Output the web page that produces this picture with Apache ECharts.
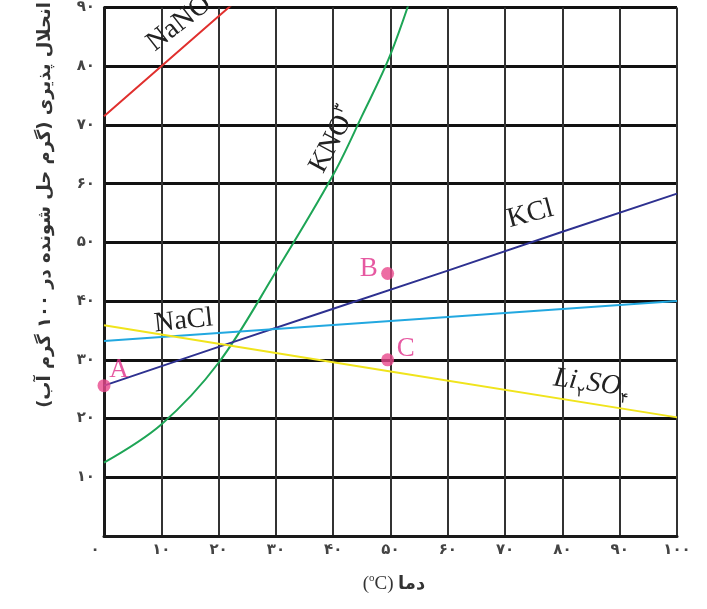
<!DOCTYPE html>
<html>
<head>
<meta charset="utf-8">
<script src="https://cdn.jsdelivr.net/npm/echarts@6/dist/echarts.min.js"></script>
<style>html,body{margin:0;padding:0;background:#fff}#c{width:707px;height:609px}</style>
</head>
<body>
<div id="c"></div>
<script>
// Tick labels (Persian digits)
var faDigits = ['۰','۱','۲','۳','۴','۵','۶','۷','۸','۹'];
// Curves: [temperature, solubility]
var nano3 = [[0, 71.5], [10, 80], [20, 88.5], [30, 97]];
var kno3 = [[0, 12.5], [10, 19], [20, 29.5], [30, 45], [40, 61.5], [45, 71.5], [50, 82], [55, 96]];
var kcl = [[0, 25.6], [20, 32.2], [40, 38.7], [60, 45.2], [80, 51.8], [100, 58.3]];
var nacl = [[0, 33.2], [50, 36.6], [100, 40.0]];
var li2so4 = [[0, 35.9], [50, 28.0], [100, 20.2]];
// Marked points
var pointNames = ['A', 'B', 'C'];
var pointX = [0, 49.5, 49.5];
var pointY = [25.6, 44.7, 30];
// Curve labels: pieces [text, kind] (m = main, s = subscript, p = raised), data coords, rotation (deg)
var curveLabels = [
  {parts: [['NaNO', 'm'], ['۳', 'p']], at: [13.8, 87.8], rot: 38},
  {parts: [['KNO', 'm'], ['۳', 'p']], at: [40.0, 67.5], rot: 62},
  {parts: [['KCl', 'm']], at: [74.4, 54.8], rot: 15},
  {parts: [['NaCl', 'm']], at: [13.9, 36.6], rot: 6},
  {parts: [['Li', 'm'], ['۲', 's'], ['SO', 'm'], ['۴', 's']], at: [85.2, 26.0], rot: -8, italic: true}
];

function fa(n) {
  return String(n).split('').map(function (d) { return faDigits[+d]; }).join('');
}

var chart = echarts.init(document.getElementById('c'));
var lineStyle = function (c) { return {color: c, width: 2}; };
var option = {
  animation: false,
  grid: {left: 104, right: 30, top: 3, bottom: 73},
  xAxis: {
    type: 'value', min: 0, max: 100, interval: 10,
    axisLine: {show: true, lineStyle: {color: '#1a1a1a', width: 3}},
    axisTick: {show: false},
    splitLine: {show: true, lineStyle: {color: '#333', width: 2}},
    axisLabel: {
      margin: 7, color: '#444', fontSize: 15, fontWeight: 'bold', fontFamily: 'DejaVu Sans',
      formatter: function (v) { return v === 0 ? '{z|' + fa(v) + '}' : fa(v); },
      rich: {z: {padding: [0, 18, 0, 0], fontSize: 15, fontWeight: 'bold', color: '#444', fontFamily: 'DejaVu Sans'}}
    }
  },
  yAxis: {
    type: 'value', min: 0, max: 90, interval: 10,
    axisLine: {show: true, lineStyle: {color: '#1a1a1a', width: 3}},
    axisTick: {show: false},
    splitLine: {show: true, lineStyle: {color: '#111', width: 3}},
    axisLabel: {
      margin: 9, color: '#444', fontSize: 15, fontWeight: 'bold', fontFamily: 'DejaVu Sans',
      formatter: function (v) { return v === 0 ? '' : fa(v); }
    }
  },
  series: [
    {type: 'line', data: nano3, showSymbol: false, lineStyle: lineStyle('#e0302e'), z: 3},
    {type: 'line', data: kno3, smooth: 0.35, showSymbol: false, lineStyle: lineStyle('#1ea556'), z: 3},
    {type: 'line', data: kcl, showSymbol: false, lineStyle: lineStyle('#2e3190'), z: 3},
    {type: 'line', data: nacl, showSymbol: false, lineStyle: lineStyle('#22a8e0'), z: 3},
    {type: 'line', data: li2so4, showSymbol: false, lineStyle: lineStyle('#f0e41c'), z: 3},
    {
      type: 'scatter', clip: false, symbolSize: 13, z: 5,
      itemStyle: {color: '#e9488c'},
      data: pointNames.map(function (n, i) {
        var off = [[15, -16], [-19, -5], [18, -11]][i];
        return {name: n, value: [pointX[i], pointY[i]],
          label: {show: true, position: 'inside', offset: off, formatter: '{b}',
            color: '#e0308a', fontSize: 27, fontFamily: 'Liberation Serif'}};
      })
    }
  ]
};
chart.setOption(option);

var measureCtx = document.createElement('canvas').getContext('2d');
function fontFor(kind, italic) {
  if (kind === 'm') return (italic ? 'italic ' : '') + '28px "Liberation Serif", "DejaVu Sans"';
  return '15px "DejaVu Sans"';
}
var graphics = curveLabels.map(function (l) {
  var p = chart.convertToPixel({gridIndex: 0}, l.at);
  var widths = l.parts.map(function (pt) {
    measureCtx.font = fontFor(pt[1], l.italic);
    return measureCtx.measureText(pt[0]).width + (pt[1] === 'm' ? 0 : 2);
  });
  var total = widths.reduce(function (a, b) { return a + b; }, 0);
  var cx = -total / 2;
  var children = l.parts.map(function (pt, i) {
    var dy = pt[1] === 's' ? 11 : (pt[1] === 'p' ? -9 : 0);
    var el = {type: 'text', x: cx + (pt[1] === 'm' ? 0 : 1), y: dy,
      style: {text: pt[0], fill: '#222', font: fontFor(pt[1], l.italic), align: 'left', verticalAlign: 'middle'}};
    cx += widths[i];
    return el;
  });
  return {type: 'group', x: p[0], y: p[1], rotation: l.rot * Math.PI / 180, z: 10, children: children};
});
graphics.push({
  type: 'text', x: 45, y: 205, rotation: Math.PI / 2, z: 10,
  style: {text: 'انحلال پذیری (گرم حل شونده در ۱۰۰ گرم آب)\u200F', fill: '#333',
    font: 'bold 18px "DejaVu Sans"', align: 'center', verticalAlign: 'middle'}
});
graphics.push({
  type: 'text', x: 394, y: 584, z: 10,
  style: {text: '{a|(}{o|o}{a|C)} {b|دما}', fill: '#333', font: '18px "Liberation Serif"',
    align: 'center', verticalAlign: 'middle',
    rich: {
      a: {fontSize: 19, fontFamily: 'Liberation Serif', color: '#333', lineHeight: 22, verticalAlign: 'middle'},
      o: {fontSize: 11, fontFamily: 'Liberation Serif', color: '#333', lineHeight: 22, padding: [0, 0, 10, 0], verticalAlign: 'top'},
      b: {fontSize: 18, fontWeight: 'bold', fontFamily: 'DejaVu Sans', color: '#333', lineHeight: 22, verticalAlign: 'middle'}
    }}
});
chart.setOption({graphic: graphics});
</script>
</body>
</html>
